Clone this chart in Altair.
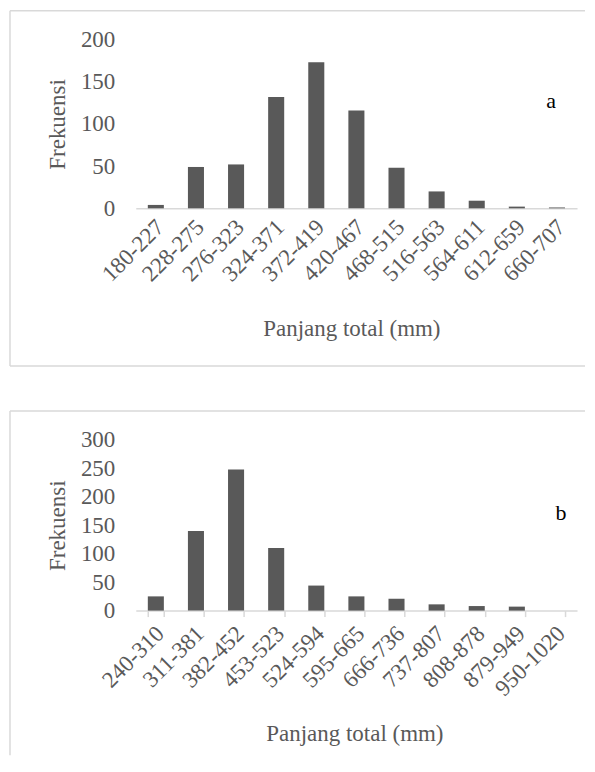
import altair as alt
import pandas as pd

# ---------------- data ----------------
kelas_a = ["180-227", "228-275", "276-323", "324-371", "372-419", "420-467",
           "468-515", "516-563", "564-611", "612-659", "660-707"]
frek_a = [4, 49, 52, 132, 173, 116, 48, 20, 9, 2, 1]

kelas_b = ["240-310", "311-381", "382-452", "453-523", "524-594", "595-665",
           "666-736", "737-807", "808-878", "879-949", "950-1020"]
frek_b = [25, 140, 248, 110, 44, 25, 21, 11, 8, 7, 0]

y_ticks_a = [0, 50, 100, 150, 200]
y_ticks_b = [0, 50, 100, 150, 200, 250, 300]

x_title = "Panjang total (mm)"
y_title = "Frekuensi"

# ---------------- style ----------------
FONT = "Liberation Serif"
GRAY = "#595959"
LINE = "#d9d9d9"
W = 442


def panel(cats, freqs, yvals, height, letter, letter_xy, show_ticks,
          label_pad, title_xy, box_bottom):
    df = pd.DataFrame({"kelas": cats, "frekuensi": freqs})
    one = pd.DataFrame({"t": [letter]})
    x_axis = alt.Axis(
        title=x_title, labelAngle=-45, labelAlign="right", labelBaseline="middle",
        labelPadding=label_pad, labelOffset=4,
        ticks=show_ticks, tickSize=6, tickColor=LINE, tickWidth=1.5,
        tickBand="extent",
        domainColor=LINE, domainWidth=1.5,
        labelColor=GRAY, labelFont=FONT, labelFontSize=23,
        titleColor=GRAY, titleFont=FONT, titleFontSize=23,
        titleFontWeight="normal", titleX=title_xy[0], titleY=title_xy[1],
        titleAlign="center", titleBaseline="middle", labelOverlap=False,
    )
    y_axis = alt.Axis(
        title=y_title, values=yvals, ticks=False, domain=False, grid=False,
        labelPadding=21, labelColor=GRAY, labelFont=FONT, labelFontSize=23,
        titleColor=GRAY, titleFont=FONT, titleFontSize=23,
        titleFontWeight="normal", titleAngle=-90, titleX=-78,
        titleY=height / 2, titleAlign="center", titleBaseline="middle",
    )
    bars = alt.Chart(df).mark_bar(color=GRAY).encode(
        x=alt.X("kelas:N", sort=cats,
                scale=alt.Scale(paddingInner=0.6, paddingOuter=0.3),
                axis=x_axis),
        y=alt.Y("frekuensi:Q",
                scale=alt.Scale(domain=[0, yvals[-1]], nice=False),
                axis=y_axis),
    )
    label = alt.Chart(one).mark_text(
        font=FONT, fontSize=22, fontWeight="normal", color="#000000",
        align="center", baseline="middle",
    ).encode(text="t:N", x=alt.value(letter_xy[0]), y=alt.value(letter_xy[1]))

    rule_kw = dict(color=LINE, strokeWidth=1.5)
    top = alt.Chart(one).mark_rule(**rule_kw).encode(
        x=alt.value(-126), x2=alt.value(450), y=alt.value(-29))
    left = alt.Chart(one).mark_rule(**rule_kw).encode(
        x=alt.value(-126), y=alt.value(-29), y2=alt.value(box_bottom))
    layers = [top, left, bars, label]
    if letter == "a":
        bottom = alt.Chart(one).mark_rule(**rule_kw).encode(
            x=alt.value(-126), x2=alt.value(450), y=alt.value(box_bottom))
        layers.insert(2, bottom)
    return alt.layer(*layers).properties(width=W, height=height)


chart_a = panel(kelas_a, frek_a, y_ticks_a, 169, "a", (416, 62), False, 15,
                (216, 120), 327)
chart_b = panel(kelas_b, frek_b, y_ticks_b, 171, "b", (426, 73), True, 13,
                (219, 123), 316)

chart = alt.vconcat(chart_a, chart_b, spacing=232, bounds="flush").properties(
    padding=0, autosize=alt.AutoSizeParams(type="pad")
).configure(padding=0).configure_view(stroke="transparent")

chart.save("out.html", embed_options={"renderer": "svg", "actions": False})
